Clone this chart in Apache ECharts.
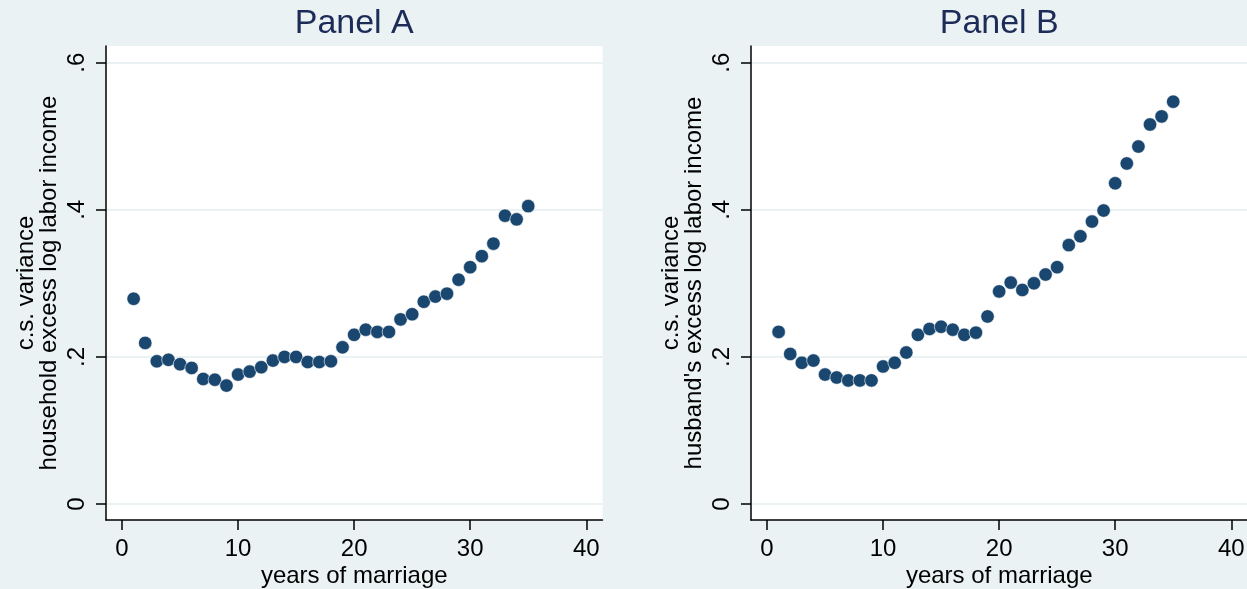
<!DOCTYPE html>
<html>
<head>
<meta charset="utf-8">
<script src="https://cdn.jsdelivr.net/npm/echarts@6/dist/echarts.min.js"></script>
<style>
html,body{margin:0;padding:0;background:#eaf2f3;}
#chart{width:1247px;height:589px;}
</style>
</head>
<body>
<div id="chart"></div>
<script>
const years = [1,2,3,4,5,6,7,8,9,10,11,12,13,14,15,16,17,18,19,20,21,22,23,24,25,26,27,28,29,30,31,32,33,34,35];
const panelA = [0.279,0.219,0.194,0.196,0.190,0.185,0.170,0.169,0.161,0.176,0.180,0.186,0.195,0.200,0.200,0.193,0.193,0.194,0.213,0.230,0.237,0.234,0.234,0.251,0.258,0.275,0.282,0.286,0.305,0.322,0.337,0.354,0.392,0.387,0.405];
const panelB = [0.234,0.204,0.192,0.195,0.176,0.172,0.168,0.168,0.168,0.187,0.192,0.206,0.230,0.238,0.241,0.237,0.230,0.233,0.255,0.289,0.301,0.291,0.300,0.312,0.322,0.352,0.364,0.384,0.399,0.436,0.463,0.486,0.516,0.527,0.547];
const xTicks = [0,10,20,30,40];
const yTicks = [0,0.2,0.4,0.6];
const titles = ['Panel A','Panel B'];
const yNames = ['c.s. variance\nhousehold excess log labor income', "c.s. variance\nhusband's excess log labor income"];
const xName = 'years of marriage';

const FONT = "'Liberation Sans', Arial, sans-serif";
const grids = [
  {left:106, top:46, width:496.5, height:474},
  {left:751, top:46, width:496.5, height:474}
];
function yFmt(v){ if (Math.abs(v) < 1e-9) return '0'; return String(Math.round(v*10)/10).replace(/^0\./,'.'); }

const xAxes = grids.map((g,i)=>({
  type:'value', gridIndex:i, min:-1.38, max:41.4,
  name:xName, nameLocation:'middle', nameGap:44, nameMoveOverlap:false,
  nameTextStyle:{fontSize:24, color:'#000', fontFamily:FONT},
  axisLine:{show:true, onZero:false, lineStyle:{color:'#000', width:1.5}},
  axisTick:{show:true, customValues:xTicks, length:10, lineStyle:{color:'#000', width:1.5}},
  axisLabel:{customValues:xTicks, fontSize:24, color:'#000', fontFamily:FONT, margin:17},
  splitLine:{show:false}
}));
const yAxes = grids.map((g,i)=>({
  type:'value', gridIndex:i, min:-0.02175, max:0.6227,
  name:yNames[i], nameLocation:'middle', nameGap:45, nameRotate:90, nameMoveOverlap:false,
  nameTextStyle:{fontSize:24, lineHeight:23, color:'#000', fontFamily:FONT, align:'center'},
  axisLine:{show:true, onZero:false, lineStyle:{color:'#000', width:1.5}},
  axisTick:{show:true, customValues:yTicks, length:10, lineStyle:{color:'#000', width:1.5}},
  axisLabel:{customValues:yTicks, rotate:90, fontSize:24, color:'#000', fontFamily:FONT, margin:17, formatter:yFmt},
  splitLine:{show:true, lineStyle:{color:'#eaf2f3', width:2}}
}));
const series = [panelA, panelB].map((vals,i)=>({
  type:'scatter', xAxisIndex:i, yAxisIndex:i,
  data: years.map((yr,k)=>[yr, vals[k]]),
  symbol:'circle', symbolSize:13.5,
  itemStyle:{color:'#1a476f', borderColor:'#ffffff', borderWidth:0.6, opacity:1},
  emphasis:{disabled:true}, animation:false
}));

const chart = echarts.init(document.getElementById('chart'), null, {renderer:'canvas'});
chart.setOption({
  backgroundColor:'#eaf2f3',
  animation:false,
  grid: grids.map(g=>Object.assign({containLabel:false, outerBoundsMode:'none', show:true, backgroundColor:'#ffffff', borderWidth:0}, g)),
  xAxis:xAxes,
  yAxis:yAxes,
  series:series,
  graphic: titles.map((t,i)=>({
    type:'text', x: grids[i].left + grids[i].width/2, y:24,
    style:{text:t, fontSize:34, fontFamily:FONT, fill:'#1c2b57', align:'center', verticalAlign:'middle'}
  }))
});
</script>
</body>
</html>
